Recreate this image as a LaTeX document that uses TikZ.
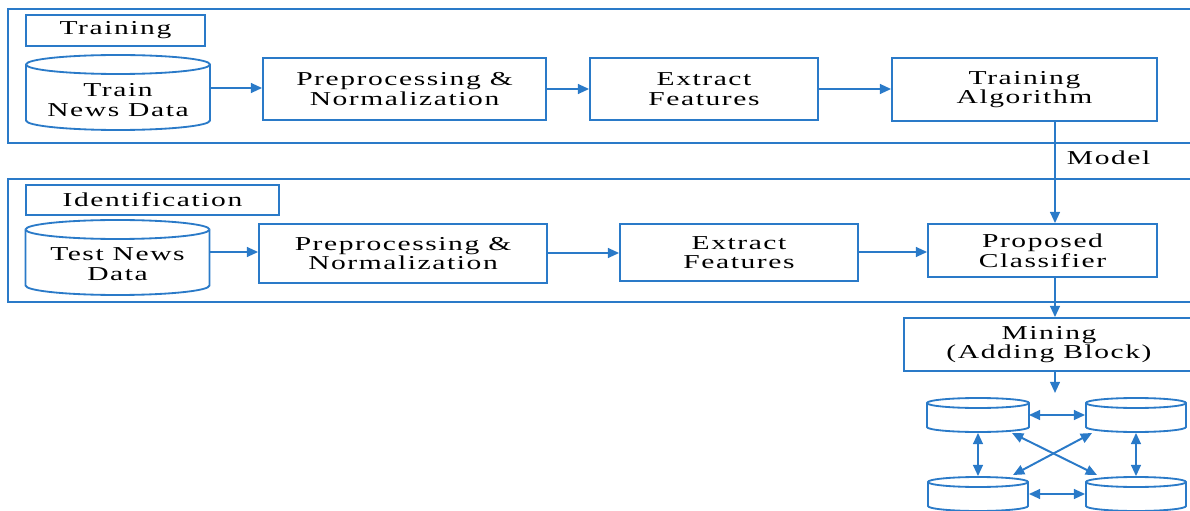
\documentclass[tikz,border=0pt]{standalone}
\usepackage{fontspec}
\setmainfont{Liberation Serif}[FakeStretch=1.5,LetterSpace=8]
\usetikzlibrary{arrows.meta,calc}
\definecolor{flowblue}{HTML}{2A7AC8}

% drum: x, y, half width, half height, ellipse radius (all in px)
\newcommand{\drum}[5]{%
	\draw[drumline] (#1-#3,#2-#4+#5) -- (#1-#3,#2+#4-#5)
		arc[start angle=180, end angle=360, x radius=#3*\px, y radius=#5*\px]
		-- (#1+#3,#2-#4+#5)
		arc[start angle=0, end angle=180, x radius=#3*\px, y radius=#5*\px] -- cycle;
	\draw[drumline] (#1-#3,#2-#4+#5)
		arc[start angle=180, end angle=360, x radius=#3*\px, y radius=#5*\px];
}

\begin{document}
\begin{tikzpicture}[x=0.025cm,y=-0.025cm,
	box/.style={draw=flowblue, line width=1.3pt, fill=white, align=center,
		font=\fontsize{14}{14}\selectfont, inner sep=1pt},
	dbtext/.style={box, draw=none, fill=none},
	drumline/.style={draw=flowblue, line width=1.3pt, fill=white},
	panel/.style={draw=flowblue, line width=1.3pt},
	link/.style={flowblue, line width=1.4pt, -{Triangle[length=8pt,width=7pt]}},
	both/.style={link, {Triangle[length=8pt,width=7pt]}-{Triangle[length=8pt,width=7pt]}}]

% parameters %{{{2

	\def\px{0.025cm}

	\clip (0,0) rectangle (1190,511);

% panels %{{{2

	\draw[panel] (8,9) rectangle (1210,143);
	\draw[panel] (8,179) rectangle (1210,302);

% training row %{{{2

	\node[box, minimum width=179*\px, minimum height=31*\px] (trainlbl) at (115.5,30.5) {Training};
	\drum{118}{92.5}{92}{37.5}{9.5}
	\node[dbtext, minimum width=184*\px, minimum height=55*\px] (traindb) at (118,100) {Train\\News Data};
	\node[box, minimum width=283*\px, minimum height=62*\px] (prepA) at (404.5,89) {Preprocessing \&\\Normalization};
	\node[box, minimum width=228*\px, minimum height=62*\px] (featA) at (704,89) {Extract\\Features};
	\node[box, minimum width=265*\px, minimum height=63*\px] (algo) at (1024.5,89.5) {Training\\Algorithm};

% identification row %{{{2

	\node[box, minimum width=253*\px, minimum height=30*\px] (identlbl) at (152.5,200) {Identification};
	\drum{117.5}{257.5}{92}{37.5}{9.5}
	\node[dbtext, minimum width=184*\px, minimum height=55*\px] (testdb) at (117.5,264) {Test News\\Data};
	\node[box, minimum width=288*\px, minimum height=59*\px] (prepB) at (403,253.5) {Preprocessing \&\\Normalization};
	\node[box, minimum width=238*\px, minimum height=57*\px] (featB) at (739,252.5) {Extract\\Features};
	\node[box, minimum width=229*\px, minimum height=53*\px] (cls) at (1042.5,250.5) {Proposed\\Classifier};

% mining and chain %{{{2

	\node[box, minimum width=290*\px, minimum height=53*\px] (mine) at (1049,344.5) {Mining\\(Adding Block)};

	\drum{978}{415}{51}{17}{5}
	\drum{1136}{415}{50}{17}{5}
	\drum{978}{494}{50}{17}{5}
	\drum{1136}{494}{50}{17}{5}
	\node[dbtext, minimum width=100*\px, minimum height=34*\px] (n1) at (978,415) {};
	\node[dbtext, minimum width=100*\px, minimum height=34*\px] (n2) at (1136,415) {};
	\node[dbtext, minimum width=100*\px, minimum height=34*\px] (n3) at (978,494) {};
	\node[dbtext, minimum width=100*\px, minimum height=34*\px] (n4) at (1136,494) {};

	\coordinate (col) at (1055,0);
	\coordinate (net) at (1055,393);

% arrows %{{{2

	\draw[link] (traindb.east |- 0,88) -- (prepA.west |- 0,88);
	\draw[link] (prepA) -- (featA);
	\draw[link] (featA.east |- 0,89) -- (algo.west |- 0,89);

	\draw[link] (testdb.east |- 0,252) -- (prepB.west |- 0,252);
	\draw[link] (prepB.east |- 0,253) -- (featB.west |- 0,253);
	\draw[link] (featB.east |- 0,252) -- (cls.west |- 0,252);

	\draw[link] (algo.south -| col) -- (cls.north -| col);
	\node[anchor=west, font=\fontsize{14}{14}\selectfont] (model) at (1062,158) {Model};

	\draw[link] (cls.south -| col) -- (mine.north -| col);
	\draw[link] (mine.south -| col) -- (net);

	\draw[both] (n1) -- (n2);
	\draw[both] (n3) -- (n4);
	\draw[both] (n1) -- (n3);
	\draw[both] (n2) -- (n4);
	\draw[both] ($(n1)+(34,18)$) -- ($(n4)+(-39,-19)$);
	\draw[both] ($(n2)+(-44,18)$) -- ($(n3)+(35,-19)$);

% closing %{{{2

\end{tikzpicture}
\end{document}
